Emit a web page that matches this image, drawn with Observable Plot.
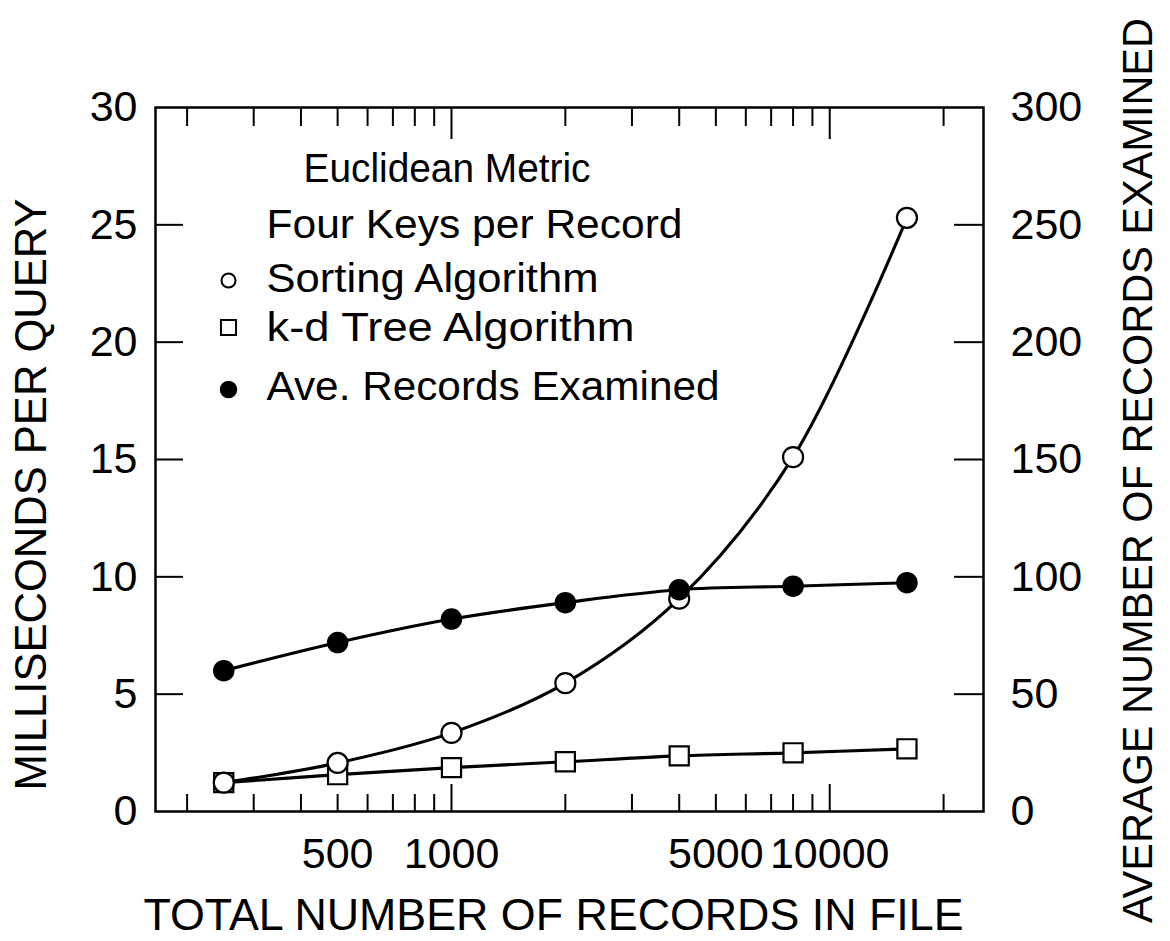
<!DOCTYPE html>
<html>
<head>
<meta charset="utf-8">
<script src="https://cdn.jsdelivr.net/npm/d3@7"></script>
<script src="https://cdn.jsdelivr.net/npm/@observablehq/plot@0.6"></script>
<style>
  html, body { margin: 0; padding: 0; background: #fff; }
  #chart svg { display: block; }
</style>
</head>
<body>
<div id="chart"></div>
<script>
// ---- data ----
const recordsInFile = [250, 500, 1000, 2000, 4000, 8000, 16000];
const sortingMs = [1.23, 2.07, 3.35, 5.47, 9.07, 15.1, 25.3];
const kdTreeMs = [1.23, 1.57, 1.87, 2.12, 2.37, 2.50, 2.67];
const aveRecordsExamined = [60, 72, 82, 89, 94.5, 96, 97.5];

const xTickLabels = [500, 1000, 5000, 10000];
const xMajorTicks = [1000, 10000];
const xMinorTicks = [200, 300, 400, 500, 600, 700, 800, 900, 2000, 3000, 4000, 5000, 6000, 7000, 8000, 9000, 20000];
const leftTickLabels = [0, 5, 10, 15, 20, 25, 30];
const leftInnerTicks = [5, 10, 15, 20, 25];
const rightTickLabels = [0, 50, 100, 150, 200, 250, 300];
const rightInnerTicks = [50, 100, 150, 200, 250];
const rightToLeft = 10; // 300 records on the right = 30 ms on the left

const legendLines = ["Euclidean Metric", "Four Keys per Record"];
const seriesNames = ["Sorting Algorithm", "k-d Tree Algorithm", "Ave. Records Examined"];
const xTitle = "TOTAL NUMBER OF RECORDS IN FILE";
const yTitle = "MILLISECONDS PER QUERY";
const y2Title = "AVERAGE NUMBER OF RECORDS EXAMINED";

// ---- tables ----
const sorting = recordsInFile.map((n, i) => ({n, v: sortingMs[i]}));
const kdTree = recordsInFile.map((n, i) => ({n, v: kdTreeMs[i]}));
const examined = recordsInFile.map((n, i) => ({n, v: aveRecordsExamined[i] / rightToLeft}));

const font = "'Liberation Sans', Arial, sans-serif";
const lineW = 3.1;
const centered = {textAnchor: "middle", lineAnchor: "middle", text: d => d};
const legendText = {frameAnchor: "top-left", textAnchor: "start", lineAnchor: "middle", fontSize: 40, text: d => d};

const chart = Plot.plot({
  width: 1170,
  height: 941,
  marginLeft: 155,
  marginRight: 187,
  marginTop: 107,
  marginBottom: 130,
  style: {fontFamily: font, background: "#fff", color: "#000"},
  x: {type: "log", domain: [165, 25500], axis: null},
  y: {domain: [0, 30], axis: null},
  marks: [
    Plot.frame({stroke: "#000", strokeWidth: 2.5}),
    // inward ticks
    Plot.axisY(leftInnerTicks, {anchor: "left", tickSize: -28, tickFormat: () => "", label: null, strokeWidth: 2}),
    Plot.axisY(rightInnerTicks.map(d => d / rightToLeft), {anchor: "right", tickSize: -30, tickFormat: () => "", label: null, strokeWidth: 2}),
    Plot.axisX(xMinorTicks, {anchor: "bottom", tickSize: -17, tickFormat: () => "", label: null, strokeWidth: 2}),
    Plot.axisX(xMajorTicks, {anchor: "bottom", tickSize: -27, tickFormat: () => "", label: null, strokeWidth: 2}),
    Plot.axisX(xMinorTicks, {anchor: "top", tickSize: -18, tickFormat: () => "", label: null, strokeWidth: 2}),
    Plot.axisX(xMajorTicks, {anchor: "top", tickSize: -31, tickFormat: () => "", label: null, strokeWidth: 2}),
    // tick labels
    Plot.axisY(leftTickLabels, {anchor: "left", tickSize: 0, tickPadding: 18, fontSize: 43, label: null}),
    Plot.axisY(rightTickLabels.map(d => d / rightToLeft), {anchor: "right", tickSize: 0, tickPadding: 27, fontSize: 43, label: null, tickFormat: d => String(Math.round(d * rightToLeft))}),
    Plot.axisX(xTickLabels, {anchor: "bottom", tickSize: 0, tickPadding: 26, fontSize: 43, label: null, tickFormat: d => String(d)}),
    // axis titles
    Plot.text([yTitle], {...centered, frameAnchor: "left", dx: -124, dy: 35, rotate: -90, fontSize: 44}),
    Plot.text([y2Title], {...centered, frameAnchor: "right", dx: 155, dy: 11, rotate: -90, fontSize: 42}),
    Plot.text([xTitle], {...centered, frameAnchor: "bottom", dx: -16, dy: 104, fontSize: 45}),
    // legend
    Plot.text([legendLines[0]], {...legendText, dx: 148, dy: 62}),
    Plot.text([legendLines[1]], {...legendText, dx: 111, dy: 118}),
    Plot.text([seriesNames[0]], {...legendText, dx: 111, dy: 172}),
    Plot.text([seriesNames[1]], {...legendText, dx: 111, dy: 221}),
    Plot.text([seriesNames[2]], {...legendText, dx: 111, dy: 280}),
    Plot.dot([seriesNames[0]], {frameAnchor: "top-left", dx: 73, dy: 173, r: 7, fill: "#fff", stroke: "#000", strokeWidth: 2}),
    Plot.dot([seriesNames[1]], {frameAnchor: "top-left", dx: 73, dy: 220, r: 8.5, symbol: "square", fill: "#fff", stroke: "#000", strokeWidth: 2}),
    Plot.dot([seriesNames[2]], {frameAnchor: "top-left", dx: 73, dy: 282, r: 8, fill: "#000", stroke: "#000"}),
    // series lines
    Plot.line(examined, {x: "n", y: "v", curve: "catmull-rom", stroke: "#000", strokeWidth: lineW}),
    Plot.line(kdTree, {x: "n", y: "v", curve: "catmull-rom", stroke: "#000", strokeWidth: lineW}),
    Plot.line(sorting, {x: "n", y: "v", curve: "catmull-rom", stroke: "#000", strokeWidth: lineW}),
    // series points
    Plot.dot(kdTree, {x: "n", y: "v", symbol: "square", r: 10.8, fill: "#fff", stroke: "#000", strokeWidth: 2.2}),
    Plot.dot(sorting, {x: "n", y: "v", r: 10, fill: "#fff", stroke: "#000", strokeWidth: 2.2}),
    Plot.dot(examined, {x: "n", y: "v", r: 10, fill: "#000", stroke: "#000"})
  ]
});

// fit lettering widths to the reference
const fit = new Map([
  [legendLines[0], 287], [legendLines[1], 416],
  [seriesNames[0], 332], [seriesNames[1], 368], [seriesNames[2], 453],
  [xTitle, 820], [yTitle, 592], [y2Title, 905]
]);
chart.querySelectorAll("text").forEach(t => {
  const s = t.textContent;
  if (fit.has(s)) {
    t.setAttribute("textLength", fit.get(s));
    t.setAttribute("lengthAdjust", "spacingAndGlyphs");
  }
});

document.getElementById("chart").appendChild(chart);
</script>
</body>
</html>
